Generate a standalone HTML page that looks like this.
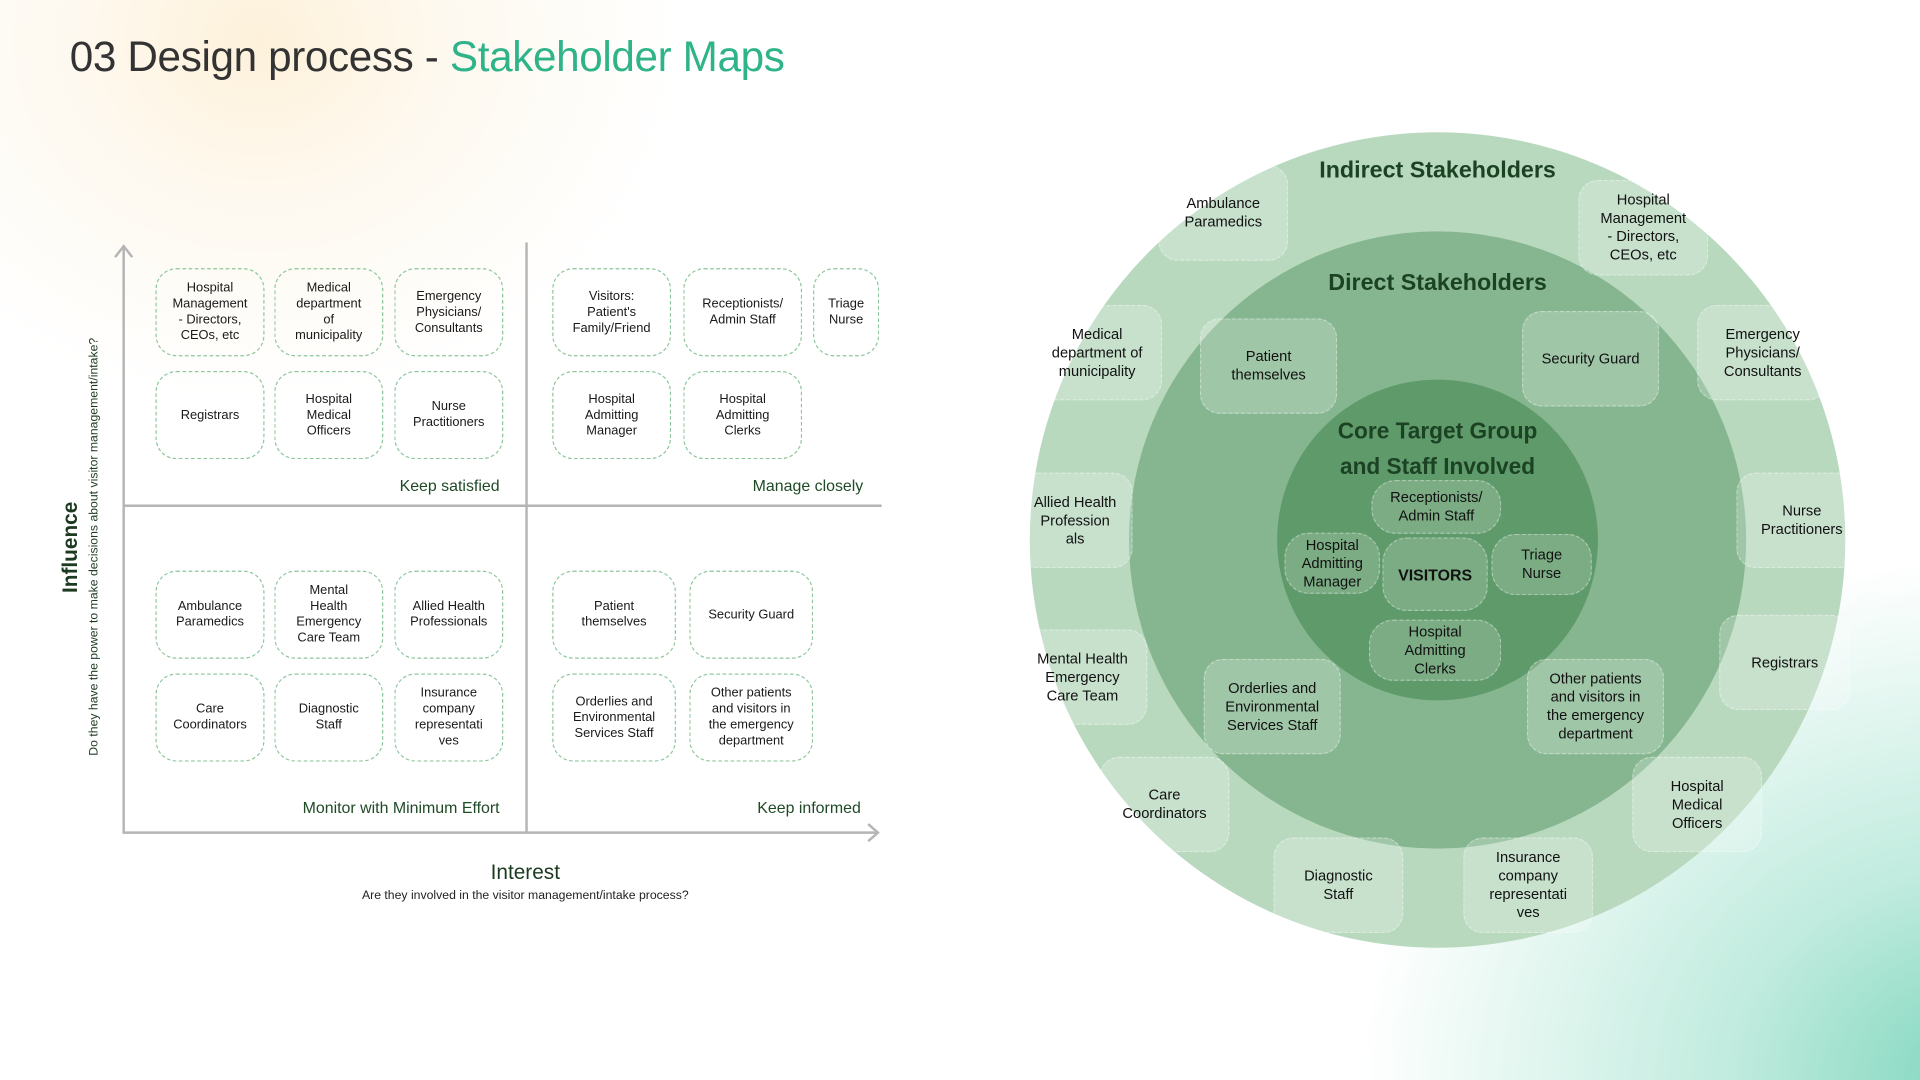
<!DOCTYPE html>
<html><head><meta charset="utf-8"><style>
html,body{margin:0;padding:0;width:1920px;height:1080px;overflow:hidden;background:#fff}
#bg{position:absolute;left:0;top:0;width:1920px;height:1080px;
background:radial-gradient(ellipse 420px 360px at 260px 40px,#fdf1da 0%,rgba(253,243,224,0.5) 45%,rgba(255,255,255,0) 100%),
radial-gradient(ellipse 620px 520px at 1980px 1080px,#7fd6bd 0%,rgba(150,222,200,0.6) 40%,rgba(255,255,255,0) 100%),#fff}
#s{position:absolute;left:0;top:0;width:1568px;height:882px;transform:scale(1.22449);transform-origin:0 0;font-family:"Liberation Sans",sans-serif}
.a{position:absolute}
.b{position:absolute;box-sizing:border-box;border:1px dashed #8cc69a;border-radius:17px;display:flex;align-items:center;justify-content:center;text-align:center;font-size:10.5px;line-height:13px;color:#1a1a1a;white-space:nowrap}
.c{position:absolute;box-sizing:border-box;border:1px dashed rgba(255,255,255,0.35);border-radius:16px;background:rgba(255,255,255,0.22);display:flex;align-items:center;justify-content:center;text-align:center;font-size:12px;line-height:15px;color:#111;white-space:nowrap}
.lab{position:absolute;font-size:13px;color:#1f4a26;text-align:right}
.circ{position:absolute;border-radius:50%}
.h{position:absolute;font-weight:bold;color:#1c4224;text-align:center;width:400px}
</style></head><body><div id="bg"></div>
<div id="s">
<div class="a" style="left:57px;top:28px;font-size:34.5px;color:#333;letter-spacing:-0.3px;white-space:nowrap">03 Design process - <span style="color:#2fb48a">Stakeholder Maps</span></div>

<svg class="a" style="left:0;top:0" width="760" height="760">
<g stroke="#b5b5b5" stroke-width="2" fill="none">
<line x1="101" y1="202" x2="101" y2="680"/><polyline points="94,210 101,201 108,210"/>
<line x1="100" y1="680" x2="716" y2="680"/><polyline points="709,673 717,680 709,687"/>
<line x1="430" y1="198" x2="430" y2="680"/>
<line x1="101" y1="413" x2="720" y2="413"/>
</g></svg>

<div class="b" style="left:127px;top:219px;width:89px;height:72px">Hospital<br>Management<br>- Directors,<br>CEOs, etc</div>
<div class="b" style="left:224px;top:219px;width:89px;height:72px">Medical<br>department<br>of<br>municipality</div>
<div class="b" style="left:322px;top:219px;width:89px;height:72px">Emergency<br>Physicians/<br>Consultants</div>
<div class="b" style="left:127px;top:303px;width:89px;height:72px">Registrars</div>
<div class="b" style="left:224px;top:303px;width:89px;height:72px">Hospital<br>Medical<br>Officers</div>
<div class="b" style="left:322px;top:303px;width:89px;height:72px">Nurse<br>Practitioners</div>
<div class="b" style="left:451px;top:219px;width:97px;height:72px">Visitors:<br>Patient's<br>Family/Friend</div>
<div class="b" style="left:558px;top:219px;width:97px;height:72px">Receptionists/<br>Admin Staff</div>
<div class="b" style="left:664px;top:219px;width:54px;height:72px">Triage<br>Nurse</div>
<div class="b" style="left:451px;top:303px;width:97px;height:72px">Hospital<br>Admitting<br>Manager</div>
<div class="b" style="left:558px;top:303px;width:97px;height:72px">Hospital<br>Admitting<br>Clerks</div>
<div class="lab" style="left:250px;top:389px;width:158px">Keep satisfied</div>
<div class="lab" style="left:540px;top:389px;width:165px">Manage closely</div>

<div class="b" style="left:127px;top:466px;width:89px;height:72px">Ambulance<br>Paramedics</div>
<div class="b" style="left:224px;top:466px;width:89px;height:72px">Mental<br>Health<br>Emergency<br>Care Team</div>
<div class="b" style="left:322px;top:466px;width:89px;height:72px">Allied Health<br>Professionals</div>
<div class="b" style="left:127px;top:550px;width:89px;height:72px">Care<br>Coordinators</div>
<div class="b" style="left:224px;top:550px;width:89px;height:72px">Diagnostic<br>Staff</div>
<div class="b" style="left:322px;top:550px;width:89px;height:72px">Insurance<br>company<br>representati<br>ves</div>
<div class="b" style="left:451px;top:466px;width:101px;height:72px">Patient<br>themselves</div>
<div class="b" style="left:563px;top:466px;width:101px;height:72px">Security Guard</div>
<div class="b" style="left:451px;top:550px;width:101px;height:72px">Orderlies and<br>Environmental<br>Services Staff</div>
<div class="b" style="left:563px;top:550px;width:101px;height:72px">Other patients<br>and visitors in<br>the emergency<br>department</div>
<div class="lab" style="left:200px;top:652px;width:208px">Monitor with Minimum Effort</div>
<div class="lab" style="left:540px;top:652px;width:163px">Keep informed</div>

<div class="a" style="left:329px;top:703px;width:200px;text-align:center;font-size:17px;color:#1c3a20">Interest</div>
<div class="a" style="left:229px;top:726px;width:400px;text-align:center;font-size:10px;color:#222">Are they involved in the visitor management/intake process?</div>
<div class="a" style="left:-42px;top:437px;width:200px;text-align:center;font-size:17px;font-weight:bold;color:#1c3a20;transform:rotate(-90deg)">Influence</div>
<div class="a" style="left:-98px;top:441px;width:350px;text-align:center;font-size:10px;color:#1c3a20;transform:rotate(-90deg);white-space:nowrap">Do they have the power to make decisions about visitor management/intake?</div>

<div class="circ" style="left:841px;top:108px;width:666px;height:666px;background:#b9d9bf"></div>
<div class="circ" style="left:922px;top:189px;width:504px;height:504px;background:#86b690"></div>
<div class="circ" style="left:1043px;top:310px;width:262px;height:262px;background:#5f9a6a"></div>
<div class="h" style="left:974px;top:129px;font-size:19px">Indirect Stakeholders</div>
<div class="h" style="left:974px;top:221px;font-size:19px">Direct Stakeholders</div>
<div class="h" style="left:974px;top:337px;font-size:18.5px;line-height:29px">Core Target Group<br>and Staff Involved</div>

<div class="c" style="left:946px;top:135px;width:106px;height:78px">Ambulance<br>Paramedics</div>
<div class="c" style="left:1289px;top:147px;width:106px;height:78px">Hospital<br>Management<br>- Directors,<br>CEOs, etc</div>
<div class="c" style="left:843px;top:249px;width:106px;height:78px">Medical<br>department of<br>municipality</div>
<div class="c" style="left:1386px;top:249px;width:107px;height:78px">Emergency<br>Physicians/<br>Consultants</div>
<div class="c" style="left:831px;top:386px;width:94px;height:78px">Allied Health<br>Profession<br>als</div>
<div class="c" style="left:1418px;top:386px;width:107px;height:78px">Nurse<br>Practitioners</div>
<div class="c" style="left:831px;top:514px;width:106px;height:78px">Mental Health<br>Emergency<br>Care Team</div>
<div class="c" style="left:1404px;top:502px;width:107px;height:78px">Registrars</div>
<div class="c" style="left:898px;top:618px;width:106px;height:78px">Care<br>Coordinators</div>
<div class="c" style="left:1333px;top:618px;width:106px;height:78px">Hospital<br>Medical<br>Officers</div>
<div class="c" style="left:1040px;top:684px;width:106px;height:78px">Diagnostic<br>Staff</div>
<div class="c" style="left:1195px;top:684px;width:106px;height:78px">Insurance<br>company<br>representati<br>ves</div>

<div class="c" style="left:980px;top:260px;width:112px;height:78px">Patient<br>themselves</div>
<div class="c" style="left:1243px;top:254px;width:112px;height:78px">Security Guard</div>
<div class="c" style="left:983px;top:538px;width:112px;height:78px">Orderlies and<br>Environmental<br>Services Staff</div>
<div class="c" style="left:1247px;top:538px;width:112px;height:78px">Other patients<br>and visitors in<br>the emergency<br>department</div>

<div class="c" style="left:1120px;top:392px;width:106px;height:44px;background:rgba(255,255,255,0.18);border-radius:20px">Receptionists/<br>Admin Staff</div>
<div class="c" style="left:1049px;top:435px;width:78px;height:50px;background:rgba(255,255,255,0.18);border-radius:20px">Hospital<br>Admitting<br>Manager</div>
<div class="c" style="left:1129px;top:439px;width:86px;height:60px;background:rgba(255,255,255,0.18);border-radius:20px;font-weight:bold;font-size:13px">VISITORS</div>
<div class="c" style="left:1218px;top:436px;width:82px;height:50px;background:rgba(255,255,255,0.18);border-radius:20px">Triage<br>Nurse</div>
<div class="c" style="left:1118px;top:506px;width:108px;height:50px;background:rgba(255,255,255,0.18);border-radius:20px">Hospital<br>Admitting<br>Clerks</div>
</div>
</body></html>
